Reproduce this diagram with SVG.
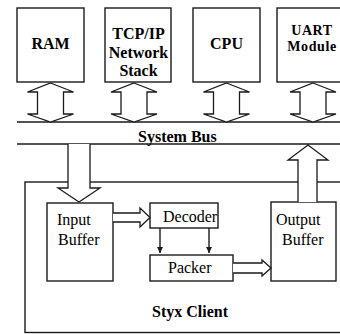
<svg xmlns="http://www.w3.org/2000/svg" xmlns:xlink="http://www.w3.org/1999/xlink" width="340" height="334" viewBox="0 0 340 334">
  <style>
    .box { fill: #fff; stroke: #1a1a1a; stroke-width: 1.4; }
    .wire { fill: none; stroke: #1a1a1a; stroke-width: 1.4; }
    .fat { fill: #fff; stroke: #1a1a1a; stroke-width: 1.3; stroke-linejoin: miter; }
    text { font-family: 'Liberation Serif', 'DejaVu Serif', serif; font-size: 16px; fill: #000; }
    .b { font-weight: bold; }
    .c { text-anchor: middle; }
    .sm { font-size: 14px; letter-spacing: 0.6px; }
  </style>
  <defs>
    <!-- double-headed bus arrow, centred on x = 0 -->
    <path id="busArrow" class="fat" d="M0,83 L23,92 L13,92 L13,114 L23,114 L0,122 L-23,114 L-13,114 L-13,92 L-23,92 Z"/>
    <marker id="head" viewBox="0 0 10 10" refX="10" refY="5" markerUnits="userSpaceOnUse" markerWidth="9" markerHeight="6" orient="auto">
      <path d="M0,0 L10,5 L0,10 Z" fill="#1a1a1a"/>
    </marker>
  </defs>

  <rect width="340" height="334" fill="#fff"/>

  <!-- Styx client container -->
  <g id="styx-client">
    <rect class="box" x="25" y="182" width="330" height="150.5"/>
    <text class="b" x="152" y="317">Styx Client</text>
  </g>

  <!-- devices on the system bus -->
  <g id="ram">
    <rect class="box" x="17" y="8" width="67" height="74"/>
    <text class="b c" x="50.5" y="49">RAM</text>
  </g>
  <g id="tcpip">
    <rect class="box" x="105" y="8" width="66" height="74"/>
    <text class="b c" x="138.5" y="39">TCP/IP</text>
    <text class="b c" x="138.5" y="58">Network</text>
    <text class="b c" x="138.5" y="76">Stack</text>
  </g>
  <g id="cpu">
    <rect class="box" x="193" y="8" width="67" height="74"/>
    <text class="b c" x="226.5" y="49">CPU</text>
  </g>
  <g id="uart">
    <rect class="box" x="277" y="8" width="80" height="74"/>
    <text class="b c sm" x="312" y="35">UART</text>
    <text class="b c sm" x="312" y="51">Module</text>
  </g>

  <!-- system bus -->
  <g id="system-bus">
    <line class="wire" x1="17" y1="122" x2="340" y2="122"/>
    <line class="wire" x1="17" y1="144" x2="340" y2="144"/>
    <text class="b" x="138" y="142">System Bus</text>
  </g>

  <!-- client internals -->
  <g id="input-buffer">
    <rect class="box" x="47" y="203" width="66" height="78"/>
    <text x="57" y="225">Input</text>
    <text x="58" y="245">Buffer</text>
  </g>
  <g id="decoder">
    <rect class="box" x="150" y="203" width="68" height="25"/>
    <text x="163" y="222">Decoder</text>
  </g>
  <g id="packer">
    <rect class="box" x="150" y="255" width="83" height="26"/>
    <text x="168" y="273">Packer</text>
  </g>
  <g id="output-buffer">
    <rect class="box" x="271" y="202" width="65" height="79"/>
    <text x="276" y="225">Output</text>
    <text x="282" y="245">Buffer</text>
  </g>

  <!-- connectors -->
  <g id="connectors">
    <use xlink:href="#busArrow" x="50.5"/>
    <use xlink:href="#busArrow" x="134"/>
    <use xlink:href="#busArrow" x="226.5"/>
    <use xlink:href="#busArrow" x="313"/>
    <!-- bus into input buffer -->
    <path class="fat" d="M68,144 L68,188 L58,188 L79,202 L100,188 L90,188 L90,144"/>
    <!-- output buffer onto bus -->
    <path class="fat" d="M298,202 L298,160 L288,160 L308,145 L328,160 L317,160 L317,202"/>
    <!-- input buffer to decoder -->
    <path class="fat" d="M113,213 L140,213 L140,208 L150,217.5 L140,227 L140,222 L113,222"/>
    <!-- packer to output buffer -->
    <path class="fat" d="M233,263 L262,263 L262,260 L271,268 L262,276 L262,273 L233,273"/>
    <!-- decoder to packer -->
    <line class="wire" x1="160" y1="228" x2="160" y2="253" marker-end="url(#head)"/>
    <line class="wire" x1="209" y1="228" x2="209" y2="253" marker-end="url(#head)"/>
  </g>
</svg>
